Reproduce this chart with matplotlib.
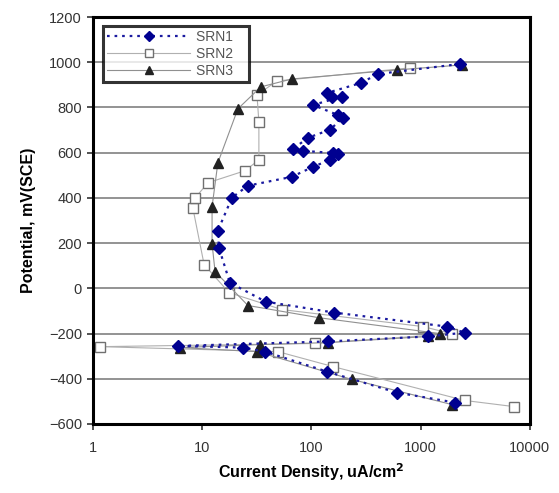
import matplotlib
matplotlib.use("Agg")
import matplotlib.pyplot as plt

plt.rcParams['font.family'] = ['Liberation Sans', 'DejaVu Sans']

srn1_i = [2050, 604, 138, 37.5, 23.6, 6.0, 141, 1161, 2530, 1733, 160, 38, 17.9, 14.2, 13.9,
          18.7, 26.2, 66, 103, 147, 174, 157, 83, 68, 93, 147, 194, 174, 103, 190, 154, 138,
          283, 405, 2280]
srn1_v = [-505, -461, -368, -280, -262, -255, -235, -213, -196, -169, -107, -59, 25, 180, 255,
          401, 454, 493, 537, 568, 595, 599, 608, 617, 666, 701, 754, 767, 811, 847, 847, 864,
          908, 948, 992]

srn2_i = [7110, 2530, 157, 49.3, 1.16, 107, 1926, 1045, 53.6, 17.6, 10.4, 8.2, 8.6, 11.3,
          24.6, 33, 33, 31.7, 48.2, 795]
srn2_v = [-523, -496, -346, -280, -258, -244, -201, -169, -94, -19, 105, 356, 400, 467,
          520, 568, 736, 855, 917, 975]

srn3_i = [1926, 234, 31.7, 6.25, 33.7, 141, 1161, 1496, 117, 26.2, 13.1, 12.3, 12.3, 13.9,
          21.2, 34.4, 66.2, 604, 2380]
srn3_v = [-514, -403, -280, -262, -249, -240, -213, -200, -130, -76, 74, 197, 361, 555,
          794, 891, 926, 966, 988]

x_ticks = [1, 10, 100, 1000, 10000]
x_ticklabels = ['1', '10', '100', '1000', '10000']
y_ticks = list(range(-600, 1201, 200))

fig = plt.figure(figsize=(5.59, 4.93), dpi=100)
ax = fig.add_axes([0.1664, 0.140, 0.7816, 0.8255])

for v in y_ticks:
    ax.axhline(v, color='#808080', lw=1.2, zorder=0)

ax.plot(srn2_i, srn2_v, color='#b0b0b0', lw=0.8, marker='s', ms=6.5,
        mfc='white', mec='#707070', mew=1.0, label='SRN2', zorder=2)
ax.plot(srn3_i, srn3_v, color='#909090', lw=0.8, marker='^', ms=7,
        mfc='#222222', mec='#222222', label='SRN3', zorder=3)
ax.plot(srn1_i, srn1_v, color='#1a1aa0', lw=1.6, ls=(0, (1.2, 2.2)), marker='D', ms=6.2,
        mfc='#000090', mec='#000090', label='SRN1', zorder=4)

ax.set_xscale('log')
ax.set_xlim(1, 10000)
ax.set_ylim(-600, 1200)
ax.set_xticks(x_ticks)
ax.set_xticklabels(x_ticklabels)
ax.xaxis.set_minor_locator(matplotlib.ticker.NullLocator())
ax.set_yticks(y_ticks)

for s in ax.spines.values():
    s.set_linewidth(2.2)
    s.set_color('black')
ax.tick_params(direction='out', length=4, width=1.2, labelsize=10.5, colors='#333333')
ax.tick_params(axis='x', pad=8)
ax.tick_params(axis='y', pad=4)

ax.set_xlabel('Current Density, uA/cm$^{\\mathbf{2}}$', fontsize=11.5, fontweight='bold', labelpad=5)
ax.set_ylabel('Potential, mV(SCE)', fontsize=11.5, fontweight='bold', labelpad=9)

handles, labels = ax.get_legend_handles_labels()
order = [labels.index('SRN1'), labels.index('SRN2'), labels.index('SRN3')]
leg = ax.legend([handles[i] for i in order], [labels[i] for i in order],
                loc='upper left', bbox_to_anchor=(0.016, 0.985), fontsize=10,
                frameon=True, fancybox=False, edgecolor='black', handlelength=6.0,
                borderpad=0.3, labelspacing=0.2, handletextpad=0.4, borderaxespad=0.2,
                markerscale=0.85)
leg.get_frame().set_linewidth(2.2)
for t in leg.get_texts():
    t.set_color('#555555')
    t.set_text(t.get_text() + '   ')

fig.savefig('out.png', dpi=100)
